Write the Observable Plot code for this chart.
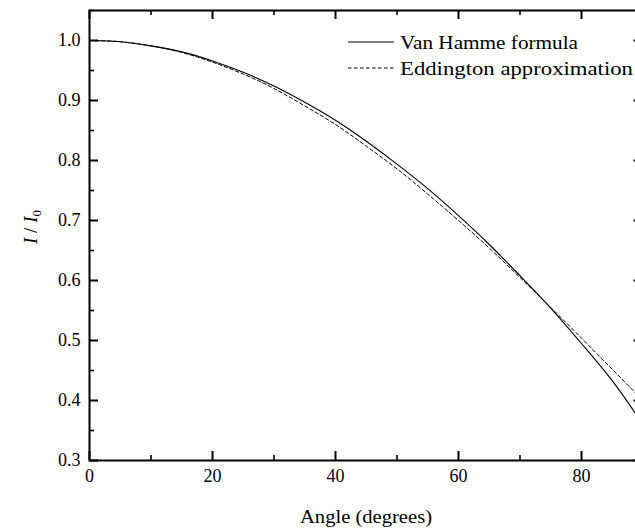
<!DOCTYPE html>
<html>
<head>
<meta charset="utf-8">
<script src="https://cdn.jsdelivr.net/npm/d3@7"></script>
<script src="https://cdn.jsdelivr.net/npm/@observablehq/plot@0.6"></script>
<style>
  html, body { margin: 0; padding: 0; background: #fff; overflow: hidden; }
  #chart { width: 635px; height: 529px; overflow: hidden; }
  #chart svg { max-width: none !important; }
  #chart svg text { font-family: 'Liberation Serif', 'Times New Roman', 'DejaVu Serif', serif !important; }
</style>
</head>
<body>
<div id="chart"></div>
<script>
// Angle in degrees
const angles = [0, 5, 10, 15, 20, 25, 30, 35, 40, 45, 50, 55, 60, 65, 70, 75, 80, 85, 90];
// Van Hamme formula (solid)
const vanHamme = [1.000, 0.998, 0.991, 0.981, 0.966, 0.947, 0.924, 0.897, 0.867, 0.832, 0.794, 0.753, 0.708, 0.660, 0.608, 0.554, 0.495, 0.433, 0.360];
// Eddington approximation (dashed)
const eddington = [1.000, 0.998, 0.991, 0.980, 0.964, 0.944, 0.920, 0.891, 0.860, 0.824, 0.786, 0.744, 0.700, 0.654, 0.605, 0.555, 0.504, 0.452, 0.400];

const xMajor = [0, 20, 40, 60, 80];
const xMinor = [10, 30, 50, 70, 90];
const yMajor = [0.3, 0.4, 0.5, 0.6, 0.7, 0.8, 0.9, 1.0];
const yMinor = [0.35, 0.45, 0.55, 0.65, 0.75, 0.85, 0.95, 1.05];

const seriesNames = ["Van Hamme formula", "Eddington approximation"];
const xLabel = "Angle (degrees)";

const rowsVH = angles.map((a, i) => ({angle: a, value: vanHamme[i]}));
const rowsED = angles.map((a, i) => ({angle: a, value: eddington[i]}));

const font = "'Liberation Serif', 'Times New Roman', 'DejaVu Serif', serif";
const W = 663, H = 529, ML = 89, MR = 20.5, MT = 10, MB = 69;
const innerW = W - ML - MR, innerH = H - MT - MB;
const majorLen = 9, minorLen = 5;

const tickMarks = [
  // bottom & top ticks (inward)
  Plot.ruleX(xMajor, {x: d => d, insetTop: innerH - majorLen, stroke: "#000", strokeWidth: 2}),
  Plot.ruleX(xMinor, {x: d => d, insetTop: innerH - minorLen, stroke: "#000", strokeWidth: 1.6}),
  Plot.ruleX(xMajor, {x: d => d, insetBottom: innerH - majorLen, stroke: "#000", strokeWidth: 2}),
  Plot.ruleX(xMinor, {x: d => d, insetBottom: innerH - minorLen, stroke: "#000", strokeWidth: 1.6}),
  // left & right ticks (inward)
  Plot.ruleY(yMajor, {y: d => d, insetRight: innerW - majorLen, stroke: "#000", strokeWidth: 2}),
  Plot.ruleY(yMinor, {y: d => d, insetRight: innerW - minorLen, stroke: "#000", strokeWidth: 1.6}),
  Plot.ruleY(yMajor, {y: d => d, insetLeft: innerW - majorLen, stroke: "#000", strokeWidth: 2}),
  Plot.ruleY(yMinor, {y: d => d, insetLeft: innerW - minorLen, stroke: "#000", strokeWidth: 1.6})
];

const chart = Plot.plot({
  width: W, height: H,
  marginLeft: ML, marginRight: MR, marginTop: MT, marginBottom: MB,
  style: {fontFamily: font, fontSize: "18px", color: "#000", background: "#fff", maxWidth: "none"},
  x: {domain: [0, 90]},
  y: {domain: [0.3, 1.05]},
  marks: [
    Plot.line(rowsED, {x: "angle", y: "value", curve: "natural", stroke: "#000", strokeWidth: 1, strokeDasharray: "3.5,2.5"}),
    Plot.line(rowsVH, {x: "angle", y: "value", curve: "natural", stroke: "#000", strokeWidth: 1.1}),
    Plot.axisX(xMajor, {anchor: "bottom", tickSize: 0, tickPadding: 9, tickFormat: d => String(d), fontSize: 18, label: null}),
    Plot.axisY(yMajor, {anchor: "left", tickSize: 0, tickPadding: 9, tickFormat: d => d.toFixed(1), fontSize: 18, label: null}),
    ...tickMarks,
    Plot.frame({stroke: "#000", strokeWidth: 2})
  ]
});
chart.style.maxWidth = "none";
document.getElementById("chart").appendChild(chart);

const svg = d3.select(chart);

// x axis title
svg.append("text")
  .attr("x", 366).attr("y", 523)
  .attr("text-anchor", "middle")
  .attr("font-size", 19)
  .attr("textLength", 132).attr("lengthAdjust", "spacingAndGlyphs")
  .text(xLabel);

// y axis title: I / I0
const yt = svg.append("text")
  .attr("transform", "translate(37,227) rotate(-90)")
  .attr("text-anchor", "middle")
  .attr("font-size", 19);
yt.append("tspan").attr("font-style", "italic").text("I");
yt.append("tspan").text(" / ");
yt.append("tspan").attr("font-style", "italic").text("I");
yt.append("tspan").attr("font-size", 13).attr("dy", 4).text("0");

// legend
const lg = svg.append("g").attr("text-anchor", "start");
const entries = [
  {name: seriesNames[0], dash: null, y: 42},
  {name: seriesNames[1], dash: "3.5,2.5", y: 68}
];
const widths = [178, 233];
entries.forEach((e, i) => {
  const ln = lg.append("line")
    .attr("x1", 348).attr("x2", 394).attr("y1", e.y).attr("y2", e.y)
    .attr("stroke", "#000").attr("stroke-width", 1);
  if (e.dash) ln.attr("stroke-dasharray", e.dash);
  lg.append("text")
    .attr("x", 400).attr("y", e.y + 6.5)
    .attr("text-anchor", "start")
    .attr("font-size", 19)
    .attr("textLength", widths[i]).attr("lengthAdjust", "spacingAndGlyphs")
    .text(e.name);
});
</script>
</body>
</html>
